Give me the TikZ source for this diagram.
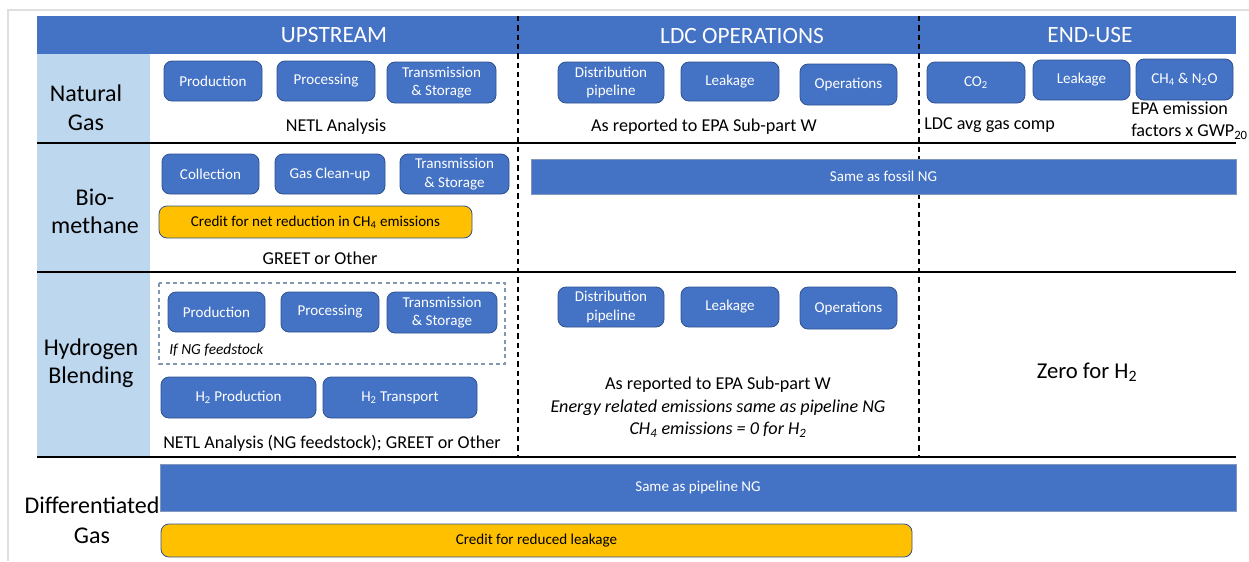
\documentclass[tikz,border=0pt]{standalone}
\usepackage{fontspec}
\setmainfont{Carlito}
\definecolor{hblue}{HTML}{4472C4}
\definecolor{lblue}{HTML}{BDD7EE}
\definecolor{gold}{HTML}{FFC000}
\definecolor{edgeblue}{HTML}{2F528F}
\definecolor{dashbox}{HTML}{8497B0}
\newcommand\Bx[6][bluebox]{\node[#1, minimum width={(#4-#2)*0.75pt}, minimum height={(#5-#3)*0.75pt}] (#6) at ({(#2+#4)/2},{(#3+#5)/2})}
\tikzset{
  bluebox/.style={rectangle, rounded corners=6pt, fill=hblue, draw=edgeblue, line width=0.6pt, text=white, font=\fontsize{11.3}{14}\selectfont, align=center, inner sep=0pt},
  goldbox/.style={bluebox, fill=gold, text=black},
  bar/.style={rectangle, fill=hblue, draw=edgeblue!60, line width=0.5pt, text=white, inner sep=0pt, font=\fontsize{11.3}{14}\selectfont},
  rowlabel/.style={align=center, inner sep=0pt, font=\fontsize{18}{21.5}\selectfont},
  head/.style={text=white, inner sep=0pt, font=\fontsize{17.5}{21}\selectfont},
  note/.style={inner sep=0pt, align=center, font=\fontsize{13.6}{17}\selectfont},
  rowline/.style={line width=1.3pt, black},
  colsep/.style={line width=1.1pt, black, dash pattern=on 4pt off 3pt},
}
\begin{document}
\begin{tikzpicture}[x=0.75pt, y=-0.75pt]
\useasboundingbox (0,0) rectangle (1249,561);
% page frame
\draw[gray!25, line width=1.5pt] (8,561) -- (8,10) -- (1249,10);
% header and left column
\fill[hblue] (37,16) rectangle (1236,54);
\fill[lblue] (37,54) rectangle (150,457);
\node[head] (hUp) at (334,35) {UPSTREAM};
\node[head] (hLdc) at (742,36) {LDC OPERATIONS};
\node[head] (hEnd) at (1090,35) {END-USE};
% row lines and column separators
\draw[rowline] (37,143) -- (1236,143);
\draw[rowline] (37,272) -- (1236,272);
\draw[rowline] (37,457) -- (1236,457);
\draw[colsep] (518,16) -- (518,457);
\draw[colsep] (919,16) -- (919,457);
% row labels
\node[rowlabel] (lNG) at (86,108) {Natural\\Gas};
\node[rowlabel, font=\fontsize{18}{21}\selectfont] (lBio) at (95,211) {Bio-\\methane};
\node[rowlabel, font=\fontsize{18}{21}\selectfont] (lH2) at (91,363) {Hydrogen\\Blending};
\node[rowlabel, font=\fontsize{18}{22.5}\selectfont] (lDiff) at (92,520) {Differentiated\\Gas};
% ---- Natural gas row
\Bx{164}{61}{262}{101}{nProd} {Production};
\Bx{277}{61}{375}{101}{nProc} {Processing};
\Bx{387}{62}{496}{103}{nTS} {Transmission\\\& Storage};
\Bx{558}{62}{664}{103}{nDist} {Distribution\\pipeline};
\Bx{681}{62}{779}{101}{nLeak} {Leakage};
\Bx{800}{64}{897}{105}{nOps} {Operations};
\Bx{927}{62}{1025}{103}{nCO} {CO\textsubscript{2}};
\Bx{1033}{60}{1130}{100}{nLeakE} {Leakage};
\Bx{1136}{59}{1233}{100}{nCH} {CH\textsubscript{4} \& N\textsubscript{2}O};
\node[note] (tNetl) at (336,127) {NETL Analysis};
\node[note] (tEpa) at (704,127) {As reported to EPA Sub-part W};
\node[note, anchor=west] (tLdc) at (924,125) {LDC avg gas comp};
\node[note, anchor=west, align=left, font=\fontsize{13.6}{16.5}\selectfont] (tFac) at (1131,121) {EPA emission\\factors x GWP\textsubscript{20}};
% ---- Biomethane row
\Bx{162}{154}{259}{194}{bColl} {Collection};
\Bx{275}{154}{385}{194}{bClean} {Gas Clean-up};
\Bx{400}{154}{509}{194}{bTS} {Transmission\\\& Storage};
\Bx[goldbox]{159}{206}{472}{238}{bCredit} {Credit for net reduction in CH\textsubscript{4} emissions};
\node[note] (tGreet) at (320,258) {GREET or Other};
\Bx[bar]{531}{159}{1236}{194}{bSame} {Same as fossil NG};
% ---- Hydrogen row
\draw[dashbox, line width=0.8pt, dash pattern=on 3pt off 2.5pt] (159,283) rectangle (505,364);
\Bx{168}{292}{265}{332}{hProd} {Production};
\Bx{281}{292}{379}{332}{hProc} {Processing};
\Bx{387}{292}{497}{333}{hTS} {Transmission\\\& Storage};
\node[inner sep=0pt, anchor=west, font=\fontsize{11.5}{14}\selectfont\itshape] (tIf) at (169,350) {If NG feedstock};
\Bx{161}{377}{316}{418}{hH2P} {H\textsubscript{2} Production};
\Bx{323}{377}{477}{418}{hH2T} {H\textsubscript{2} Transport};
\node[note] (tNetl2) at (332,443) {NETL Analysis (NG feedstock); GREET or Other};
\Bx{558}{287}{664}{327}{hDist} {Distribution\\pipeline};
\Bx{681}{287}{779}{327}{hLeak} {Leakage};
\Bx{800}{287}{897}{329}{hOps} {Operations};
\node[note] (tEpa2) at (718,385) {As reported to EPA Sub-part W};
\node[note, font=\fontsize{13.6}{17}\selectfont\itshape] (tEn) at (718,408) {Energy related emissions same as pipeline NG};
\node[note, font=\fontsize{13.6}{17}\selectfont\itshape] (tCh) at (718,430) {CH\textsubscript{4} emissions = 0 for H\textsubscript{2}};
\node[note, font=\fontsize{17}{20}\selectfont] (tZero) at (1087,372) {Zero for H\textsubscript{2}};
% ---- Differentiated gas row
\Bx[bar]{160}{464}{1236}{511}{dSame} {Same as pipeline NG};
\Bx[goldbox]{161}{524}{912}{557}{dCredit} {Credit for reduced leakage};
\end{tikzpicture}
\end{document}
